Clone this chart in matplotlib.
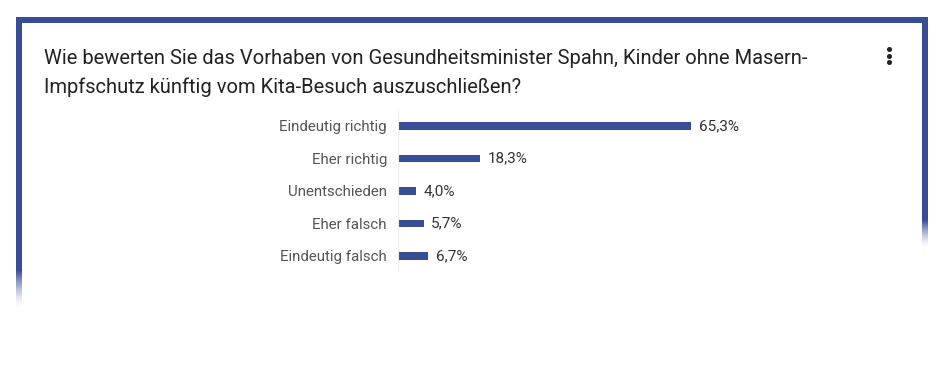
import matplotlib
matplotlib.use('Agg')
import matplotlib.pyplot as plt
import numpy as np
from matplotlib.patches import Rectangle

categories = ["Eindeutig richtig", "Eher richtig", "Unentschieden", "Eher falsch", "Eindeutig falsch"]
values = [65.3, 18.3, 4.0, 5.7, 6.7]
value_labels = ["65,3%", "18,3%", "4,0%", "5,7%", "6,7%"]
title_lines = ["Wie bewerten Sie das Vorhaben von Gesundheitsminister Spahn, Kinder ohne Masern-",
               "Impfschutz künftig vom Kita-Besuch auszuschließen?"]

W, H = 941, 385
blue = "#374d96"
plt.rcParams['font.family'] = ['Roboto', 'DejaVu Sans']

fig = plt.figure(figsize=(W / 100, H / 100), dpi=100)
fig.patch.set_facecolor("white")

# background layer in pixel coordinates
bg = fig.add_axes([0, 0, 1, 1])
bg.set_xlim(0, W)
bg.set_ylim(H, 0)
bg.axis("off")

# frame: top border, solid parts of the sides, faded ends
bg.add_patch(Rectangle((16, 17), 912, 6, color=blue, lw=0))
bg.add_patch(Rectangle((16, 17), 6, 253, color=blue, lw=0))
bg.add_patch(Rectangle((922, 17), 6, 203, color=blue, lw=0))
def fade(x0, x1, y0, y1):
    g = np.ones((64, 1, 4))
    g[..., :3] = matplotlib.colors.to_rgb(blue)
    g[:, 0, 3] = np.linspace(1, 0, 64) ** 1.5
    bg.imshow(g, extent=(x0, x1, y1, y0), aspect="auto", interpolation="bilinear")
fade(16, 22, 270, 308)
fade(922, 928, 220, 248)
bg.set_xlim(0, W)
bg.set_ylim(H, 0)

for ty, line in zip([58, 87], title_lines):
    bg.text(44, ty, line, fontsize=14.5, color="#222222", va="center", ha="left")
bg.plot([889, 889, 889], [49, 55.5, 62], "o", color="#222222", ms=2.6)

# bar chart
left, right = 398, 398 + 100 * 4.487
top, bottom = 109.75, 272.25
ax = fig.add_axes([left / W, 1 - bottom / H, (right - left) / W, (bottom - top) / H])
ax.set_facecolor("none")
y = np.arange(len(categories))
ax.barh(y, values, height=0.22, color=blue)
ax.set_xlim(0, 100)
ax.set_ylim(len(categories) - 0.5, -0.5)
ax.set_yticks(y)
ax.set_yticklabels(categories, fontsize=10.8, color="#555555")
ax.tick_params(axis="y", length=0, pad=8)
ax.set_xticks([])
for s in ["top", "right", "bottom"]:
    ax.spines[s].set_visible(False)
ax.spines["left"].set_color("#eeeeee")
ax.spines["left"].set_bounds(-0.45, 4.45)
for yi, v, lab in zip(y, values, value_labels):
    ax.text(v + 1.7, yi, lab, va="center", ha="left", fontsize=11,
            color="#333333")

fig.savefig("out.png", dpi=100)
